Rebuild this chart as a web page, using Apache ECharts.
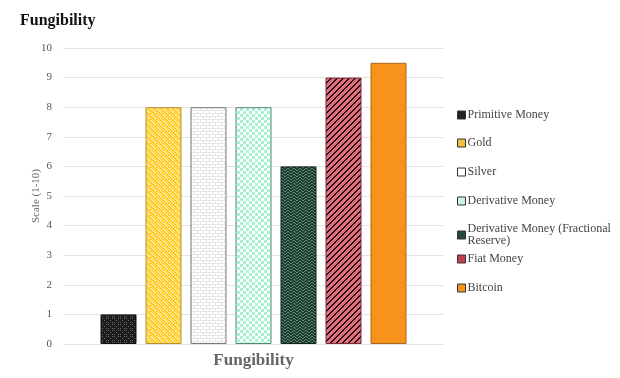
<!DOCTYPE html>
<html>
<head>
<meta charset="utf-8">
<script src="https://cdn.jsdelivr.net/npm/echarts@6/dist/echarts.min.js"></script>
<style>
html,body{margin:0;padding:0;background:#fff;}
#main{width:620px;height:378px;}
</style>
</head>
<body>
<div id="main"></div>
<script>
var categories = ['Fungibility'];
var seriesNames = ['Primitive Money', 'Gold', 'Silver', 'Derivative Money',
	'Derivative Money (Fractional Reserve)', 'Fiat Money', 'Bitcoin'];
var seriesValues = [1, 8, 8, 8, 6, 9, 9.5];
var yTicks = [0, 1, 2, 3, 4, 5, 6, 7, 8, 9, 10];

// small canvas patterns, like the excel fills
function makePattern(bg, fg, draw){
	var c = document.createElement('canvas');
	c.width = 6; c.height = 6;
	var ctx = c.getContext('2d');
	ctx.fillStyle = bg;
	ctx.fillRect(0, 0, 6, 6);
	ctx.fillStyle = fg;
	draw(ctx);
	return {image: c, repeat: 'repeat'};
}
function dots(ctx){
	for(var x = 0; x < 6; x += 2){
		for(var y = 0; y < 6; y += 2){
			if(((x + y) / 2) % 2 == 0) ctx.fillRect(x, y, 1, 1);
		}
	}
}
function checker(ctx){
	ctx.fillRect(0, 0, 3, 3);
	ctx.fillRect(3, 3, 3, 3);
}
function diagDown(ctx){
	for(var i = 0; i < 6; i++){
		ctx.fillRect(i, i, 2, 1);
		ctx.fillRect((i + 3) % 6, i, 1, 1);
	}
}
function diagUp(ctx){
	for(var i = 0; i < 6; i++){
		ctx.fillRect((6 - i) % 6, i, 2, 1);
		ctx.fillRect((7 - i) % 6, i, 1, 1);
	}
}
function brick(ctx){
	ctx.fillRect(0, 2, 6, 1);
	ctx.fillRect(0, 5, 6, 1);
	ctx.fillRect(2, 0, 1, 2);
	ctx.fillRect(5, 3, 1, 2);
}
function zigzag(ctx){
	for(var i = 0; i < 6; i++){
		ctx.fillRect(i, (i < 3 ? i : 5 - i), 1, 1);
		ctx.fillRect(i, (i < 3 ? i : 5 - i) + 3, 1, 1);
	}
}

var fills = [
	makePattern('#1c1c1c', '#6a6a6a', dots),
	makePattern('#ffc61a', '#ffec9a', diagDown),
	makePattern('#ffffff', '#e6e6e6', brick),
	makePattern('#ffffff', '#a8f2d4', checker),
	makePattern('#1d3a2c', '#5d8a74', zigzag),
	makePattern('#e3707c', '#241014', diagUp),
	'#f7931a'
];
var borders = ['#111', '#b8902a', '#777', '#4e8a70', '#10221a', '#7a2a34', '#a8681c'];
var legendIcons = ['#222', '#f0c040', '#fff', '#c8f5e2', '#244a38', '#c04050', '#f7931a'];
var legendTops = [104, 132, 161, 190, 218, 248, 277];

var chart = echarts.init(document.getElementById('main'));
var font = '"Liberation Serif", "DejaVu Serif", serif';

var series = seriesNames.map(function(name, i){
	return {
		name: name,
		type: 'bar',
		barWidth: 36,
		barGap: '25%',
		data: [seriesValues[i]],
		itemStyle: {color: fills[i], borderColor: borders[i], borderWidth: 1}
	};
});

// one legend per item so the wrapped one keeps the excel spacing
var legends = seriesNames.map(function(n, i){
	var wrapped = n.indexOf('Fractional') > 0;
	return {
		orient: 'vertical',
		left: 452,
		top: legendTops[i],
		itemWidth: 8,
		itemHeight: 8,
		icon: 'rect',
		data: [{name: n, itemStyle: {color: legendIcons[i], borderColor: '#333', borderWidth: 1}}],
		formatter: wrapped ? function(name){ return 'Derivative Money (Fractional\nReserve)'; } : null,
		textStyle: {fontFamily: font, fontSize: 12, color: '#444', lineHeight: 12, padding: [0, 0, 0, -3]}
	};
});

chart.setOption({
	animation: false,
	textStyle: {fontFamily: font},
	title: {
		text: 'Fungibility',
		left: 15,
		top: 8,
		textStyle: {fontFamily: font, fontSize: 16, fontWeight: 'bold', color: '#111'}
	},
	legend: legends,
	grid: {left: 63, right: 176, top: 48, bottom: 34},
	xAxis: {
		type: 'category',
		data: categories,
		axisLine: {show: false},
		axisTick: {show: false},
		axisLabel: {fontFamily: font, fontSize: 17, fontWeight: 'bold', color: '#666', margin: 8}
	},
	yAxis: {
		type: 'value',
		min: yTicks[0],
		max: yTicks[yTicks.length - 1],
		interval: 1,
		name: 'Scale (1-10)',
		nameLocation: 'middle',
		nameGap: 21,
		nameMoveOverlap: false,
		nameTextStyle: {fontFamily: font, fontSize: 11, color: '#666'},
		axisLabel: {fontFamily: font, fontSize: 11, color: '#555', margin: 11},
		splitLine: {lineStyle: {color: '#e3e3e3'}}
	},
	series: series
});
</script>
</body>
</html>
